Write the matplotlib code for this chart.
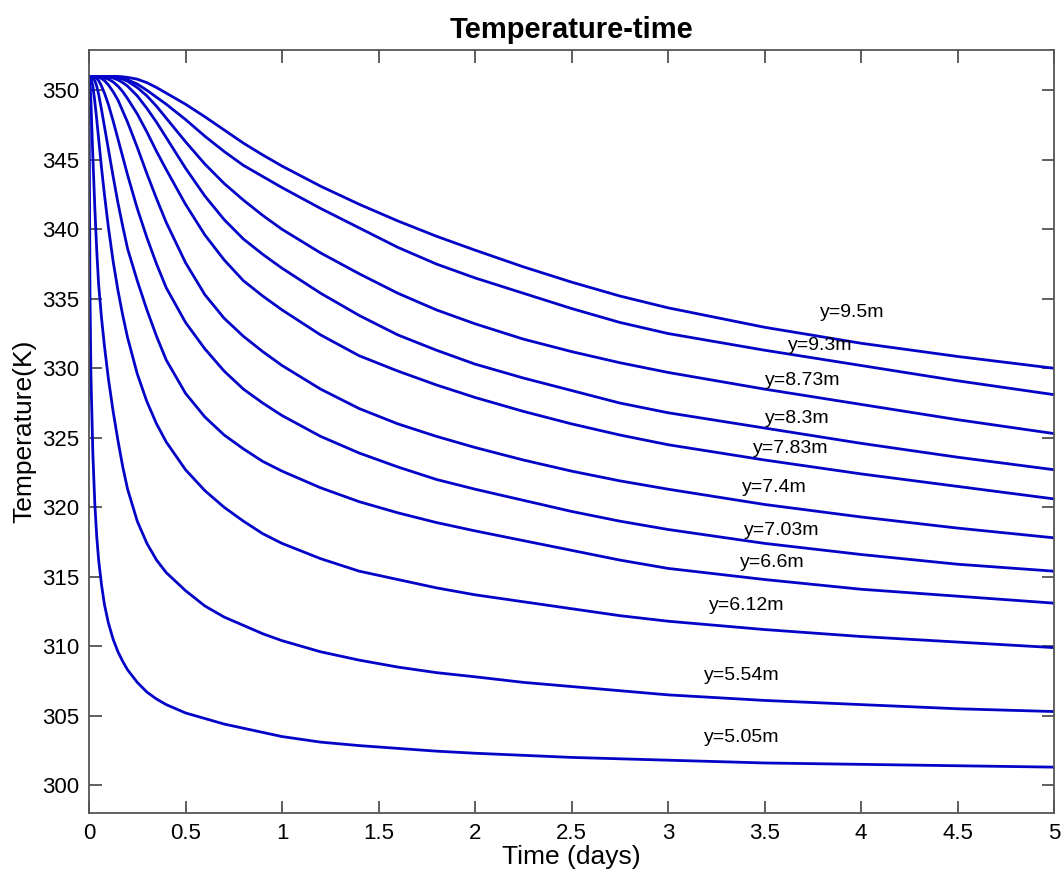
import matplotlib
matplotlib.use("Agg")
import matplotlib.pyplot as plt

plt.rcParams['font.family'] = ['Liberation Sans', 'DejaVu Sans']

# Time samples (days)
time_days = [0, 0.005, 0.01, 0.02, 0.03, 0.04, 0.05, 0.065, 0.08, 0.1,
             0.125, 0.15, 0.175, 0.2, 0.25, 0.3, 0.35, 0.4,
             0.5, 0.6, 0.7, 0.8, 0.9, 1.0,
             1.2, 1.4, 1.6, 1.8, 2.0,
             2.25, 2.5, 2.75, 3.0,
             3.5, 4.0, 4.5, 5.0]

# Temperature (K) at each depth
T_9_50 = [351, 351, 351, 351, 351, 351, 351, 351, 351, 351,
          351, 351, 350.97, 350.93, 350.8, 350.55, 350.2, 349.8,
          349.0, 348.1, 347.15, 346.2, 345.35, 344.55,
          343.1, 341.8, 340.6, 339.5, 338.5,
          337.3, 336.2, 335.2, 334.35,
          332.95, 331.8, 330.85, 330.0]
T_9_30 = [351, 351, 351, 351, 351, 351, 351, 351, 351, 351,
          350.97, 350.93, 350.85, 350.75, 350.45, 350.0, 349.5, 349.0,
          347.9, 346.7, 345.6, 344.6, 343.8, 343.0,
          341.5, 340.1, 338.7, 337.5, 336.5,
          335.4, 334.3, 333.3, 332.5,
          331.3, 330.2, 329.1, 328.1]
T_8_73 = [351, 351, 351, 351, 351, 351, 351, 351, 351, 351,
          350.97, 350.9, 350.8, 350.65, 350.2, 349.6, 348.85, 348.0,
          346.3, 344.7, 343.3, 342.1, 341.0, 340.0,
          338.3, 336.8, 335.4, 334.2, 333.2,
          332.1, 331.2, 330.4, 329.7,
          328.5, 327.4, 326.3, 325.3]
T_8_30 = [351, 351, 351, 351, 351, 351, 351, 351, 350.98, 350.95,
          350.88, 350.75, 350.55, 350.3, 349.6, 348.7, 347.7, 346.6,
          344.4, 342.4, 340.7, 339.3, 338.2, 337.2,
          335.4, 333.8, 332.4, 331.3, 330.3,
          329.3, 328.4, 327.5, 326.8,
          325.7, 324.6, 323.6, 322.7]
T_7_83 = [351, 351, 351, 351, 351, 351, 350.99, 350.96, 350.9, 350.8,
          350.6, 350.3, 349.9, 349.4, 348.3, 347.0, 345.6, 344.3,
          341.8, 339.6, 337.8, 336.3, 335.2, 334.2,
          332.4, 330.9, 329.8, 328.8, 327.9,
          326.9, 326.0, 325.2, 324.5,
          323.4, 322.4, 321.5, 320.6]
T_7_40 = [351, 351, 351, 351, 350.99, 350.97, 350.93, 350.85, 350.7, 350.4,
          349.9, 349.3, 348.5, 347.7, 345.9, 344.0, 342.2, 340.5,
          337.6, 335.3, 333.6, 332.3, 331.2, 330.2,
          328.5, 327.1, 326.0, 325.1, 324.3,
          323.4, 322.6, 321.9, 321.3,
          320.2, 319.3, 318.5, 317.8]
T_7_03 = [351, 351, 351, 350.99, 350.95, 350.85, 350.7, 350.3, 349.8, 349.0,
          347.8, 346.5, 345.2, 343.9, 341.5, 339.4, 337.5, 335.8,
          333.3, 331.4, 329.8, 328.5, 327.5, 326.6,
          325.1, 323.9, 322.9, 322.0, 321.3,
          320.5, 319.7, 319.0, 318.4,
          317.4, 316.6, 315.9, 315.4]
T_6_60 = [351, 351, 351, 350.9, 350.7, 350.3, 349.7, 348.6, 347.4, 345.8,
          343.8, 341.9, 340.2, 338.6, 336.3, 334.2, 332.3, 330.6,
          328.2, 326.5, 325.2, 324.2, 323.3, 322.6,
          321.4, 320.4, 319.6, 318.9, 318.3,
          317.6, 316.9, 316.2, 315.6,
          314.8, 314.1, 313.6, 313.1]
T_6_12 = [351, 351, 350.9, 350.3, 349.2, 347.9, 346.5, 344.4, 342.5, 340.2,
          337.7, 335.6, 333.8, 332.2, 329.6, 327.6, 326.0, 324.7,
          322.7, 321.2, 320.0, 319.0, 318.1, 317.4,
          316.3, 315.4, 314.8, 314.2, 313.7,
          313.2, 312.7, 312.2, 311.8,
          311.2, 310.7, 310.3, 309.9]
T_5_54 = [351, 350.6, 349.2, 345.2, 341.6, 338.5, 336.0, 333.6, 331.6, 329.3,
          326.9, 324.8, 322.9, 321.3, 319.0, 317.4, 316.2, 315.3,
          314.0, 312.9, 312.1, 311.5, 310.9, 310.4,
          309.6, 309.0, 308.5, 308.1, 307.8,
          307.4, 307.1, 306.8, 306.5,
          306.1, 305.8, 305.5, 305.3]
T_5_05 = [351, 335.5, 329.5, 323.8, 320.3, 317.9, 316.2, 314.4, 313.0, 311.7,
          310.5, 309.6, 308.9, 308.3, 307.4, 306.7, 306.2, 305.8,
          305.2, 304.8, 304.4, 304.1, 303.8, 303.5,
          303.1, 302.85, 302.65, 302.45, 302.3,
          302.15, 302.0, 301.9, 301.8,
          301.6, 301.5, 301.4, 301.3]

series = [T_9_50, T_9_30, T_8_73, T_8_30, T_7_83, T_7_40,
          T_7_03, T_6_60, T_6_12, T_5_54, T_5_05]

# Curve labels and where they sit (time, temperature)
label_text = ["y=9.5m", "y=9.3m", "y=8.73m", "y=8.3m", "y=7.83m", "y=7.4m",
              "y=7.03m", "y=6.6m", "y=6.12m", "y=5.54m", "y=5.05m"]
label_t = [3.955, 3.79, 3.70, 3.67, 3.635, 3.55, 3.59, 3.54, 3.41, 3.38, 3.38]
label_T = [334.0, 331.65, 329.1, 326.4, 324.25, 321.4, 318.35, 316.0, 312.9, 307.9, 303.45]

x_ticks = [0, 0.5, 1, 1.5, 2, 2.5, 3, 3.5, 4, 4.5, 5]
x_tick_labels = ["0", "0.5", "1", "1.5", "2", "2.5", "3", "3.5", "4", "4.5", "5"]
y_ticks = [300, 305, 310, 315, 320, 325, 330, 335, 340, 345, 350]

line_color = "#0404c8"

fig = plt.figure(figsize=(10.63, 8.77), dpi=100)
ax = fig.add_axes([89 / 1063, 64 / 877, 965 / 1063, 763 / 877])

for temps in series:
    ax.plot(time_days, temps, color=line_color, linewidth=2.0,
            solid_joinstyle="round", solid_capstyle="round")

for txt, tx, ty in zip(label_text, label_t, label_T):
    ax.text(tx, ty, txt, fontsize=14, ha="center", va="center", color="black")

ax.set_xlim(0, 5)
ax.set_ylim(298, 352.9)
ax.set_xticks(x_ticks)
ax.set_xticklabels(x_tick_labels)
ax.set_yticks(y_ticks)

ax.tick_params(direction="in", length=9, width=1.1, top=True, right=True,
               labelsize=16, color="#333333", pad=7)
for spine in ax.spines.values():
    spine.set_linewidth(1.3)
    spine.set_color("#555555")

ax.set_xlabel("Time (days)", fontsize=19, labelpad=1)
ax.set_ylabel("Temperature(K)", fontsize=19, labelpad=4)
ax.set_title("Temperature-time", fontsize=21, fontweight="bold", pad=9)

fig.savefig("out.png", dpi=100, facecolor="white")
